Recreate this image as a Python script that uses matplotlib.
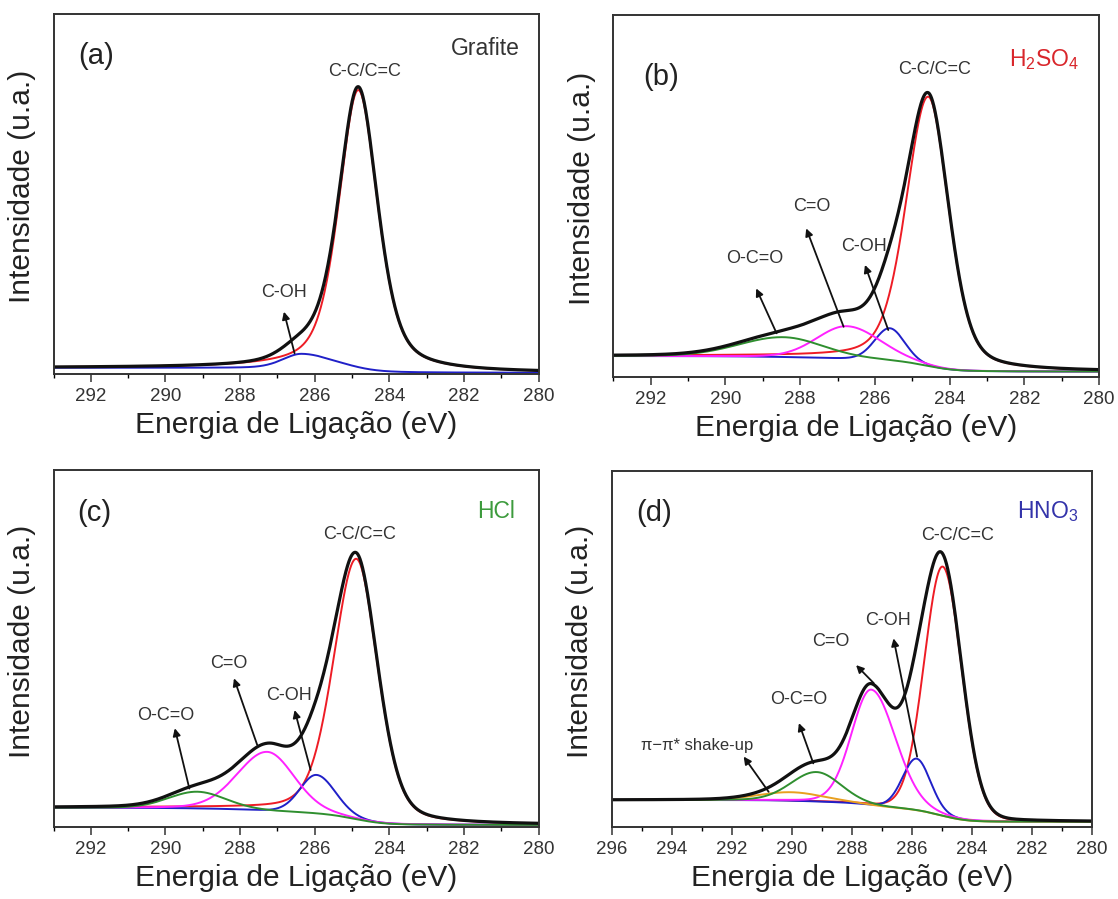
import numpy as np
import matplotlib.pyplot as plt
from matplotlib.ticker import MultipleLocator

plt.rcParams['font.family'] = ['Liberation Sans', 'DejaVu Sans']

# peak fits: centre (eV), height above background,
# width on the high-BE side, width on the low-BE side, lorentz fraction
a_names = ['C-C/C=C', 'C-OH']
a_center = [284.83, 286.35]
a_height = [0.78, 0.040]
a_w_hi = [1.24, 1.2]
a_w_lo = [1.24, 2.0]
a_eta = [0.5, 0.3]
a_bg = [0.016, 0.002]

b_names = ['C-C/C=C', 'C-OH', 'C=O', 'O-C=O']
b_center = [284.57, 285.6, 286.75, 288.45]
b_height = [0.745, 0.09, 0.09, 0.055]
b_w_hi = [1.4, 0.95, 1.9, 2.8]
b_w_lo = [1.3, 0.95, 2.1, 2.5]
b_eta = [0.35, 0.1, 0.1, 0.1]
b_bg = [0.057, 0.014]

c_names = ['C-C/C=C', 'C-OH', 'C=O', 'O-C=O']
c_center = [284.88, 285.95, 287.27, 289.15]
c_height = [0.73, 0.108, 0.165, 0.047]
c_w_hi = [1.45, 1.05, 1.9, 1.8]
c_w_lo = [1.35, 1.2, 1.7, 1.8]
c_eta = [0.3, 0.1, 0.15, 0.1]
c_bg = [0.053, 0.005]

d_names = ['C-C/C=C', 'C-OH', 'C=O', 'O-C=O', 'shake-up']
d_center = [284.97, 285.84, 287.35, 289.17, 290.0]
d_height = [0.70, 0.145, 0.325, 0.083, 0.024]
d_w_hi = [1.45, 1.1, 1.55, 2.0, 2.6]
d_w_lo = [1.5, 1.1, 1.9, 1.9, 2.6]
d_eta = [0.08, 0.1, 0.1, 0.1, 0.1]
d_bg = [0.075, 0.014]

comp_colors = {'C-C/C=C': '#ee1c25', 'C-OH': '#2020c8', 'C=O': '#ff22ff',
               'O-C=O': '#2f8f2f', 'shake-up': '#e8a020'}


def peak(x, c, h, whi, wlo, eta):
    w = np.where(x >= c, whi, wlo)
    t = ((x - c) / w) ** 2
    return h * ((1 - eta) * np.exp(-4 * np.log(2) * t) + eta / (1 + 4 * t))


def shirley(x, total, bhi, blo):
    cum = np.concatenate([[0], np.cumsum(0.5 * (total[1:] + total[:-1]) * np.diff(x))])
    return blo + (bhi - blo) * cum / cum[-1]


def draw(ax, xmin, xmax, names, center, height, whi, wlo, eta, bg):
    x = np.linspace(xmin, xmax, 1500)
    peaks = [peak(x, center[i], height[i], whi[i], wlo[i], eta[i]) for i in range(len(names))]
    total = np.sum(peaks, axis=0)
    back = shirley(x, total, bg[0], bg[1])
    order = ['C-C/C=C', 'C-OH', 'C=O', 'shake-up', 'O-C=O']
    for nm in order:
        if nm in names:
            i = names.index(nm)
            ax.plot(x, back + peaks[i], color=comp_colors[nm], lw=1.4)
    ax.plot(x, back + total, color='#111111', lw=2.3)
    ax.set_xlim(xmax, xmin)
    ax.set_ylim(0, 1)
    ax.set_yticks([])
    ax.xaxis.set_major_locator(MultipleLocator(2))
    ax.xaxis.set_minor_locator(MultipleLocator(1))
    ax.tick_params(axis='x', which='major', direction='out', length=5.5, width=1.1,
                   labelsize=13.5, pad=5, colors='#333333')
    ax.tick_params(axis='x', which='minor', direction='out', length=3, width=1.0)
    for s in ax.spines.values():
        s.set_linewidth(1.4)
        s.set_color('#333333')
    ax.set_xlabel('Energia de Ligação (eV)', fontsize=21.5, labelpad=4, color='#222222')
    ax.set_ylabel('Intensidade (u.a.)', fontsize=21.5, color='#222222')
    ax.yaxis.set_label_coords(-0.036, 0.52)


def label(ax, txt, pos, size=13, color='#333333'):
    ax.text(pos[0], pos[1], txt, transform=ax.transAxes, ha='center', va='center',
            fontsize=size, color=color)


def arrow(ax, tail, head):
    ax.annotate('', xy=head, xytext=tail, xycoords='axes fraction',
                arrowprops=dict(arrowstyle='-|>', color='#111111', lw=1.3,
                                mutation_scale=11, shrinkA=0, shrinkB=0))


fig = plt.figure(figsize=(11.18, 8.99), dpi=100)
ax_a = fig.add_axes([0.0479, 0.5845, 0.4338, 0.3999])
ax_b = fig.add_axes([0.5487, 0.5810, 0.4343, 0.4023])
ax_c = fig.add_axes([0.0479, 0.0804, 0.4338, 0.3968])
ax_d = fig.add_axes([0.5470, 0.0804, 0.4297, 0.3960])

draw(ax_a, 280, 293, a_names, a_center, a_height, a_w_hi, a_w_lo, a_eta, a_bg)
draw(ax_b, 280, 293, b_names, b_center, b_height, b_w_hi, b_w_lo, b_eta, b_bg)
draw(ax_c, 280, 293, c_names, c_center, c_height, c_w_hi, c_w_lo, c_eta, c_bg)
draw(ax_d, 280, 296, d_names, d_center, d_height, d_w_hi, d_w_lo, d_eta, d_bg)

# panel (a)
label(ax_a, '(a)', (0.088, 0.884), size=21, color='#222222')
label(ax_a, 'Grafite', (0.89, 0.904), size=16.5)
label(ax_a, 'C-C/C=C', (0.641, 0.84))
label(ax_a, 'C-OH', (0.475, 0.225))
arrow(ax_a, (0.497, 0.056), (0.475, 0.172))

# panel (b)
label(ax_b, '(b)', (0.099, 0.829), size=21, color='#222222')
label(ax_b, 'H$_\\mathregular{2}$SO$_\\mathregular{4}$', (0.886, 0.876), size=16.5, color='#d9262b')
label(ax_b, 'C-C/C=C', (0.662, 0.848))
label(ax_b, 'O-C=O', (0.29, 0.327))
arrow(ax_b, (0.336, 0.12), (0.294, 0.244))
label(ax_b, 'C=O', (0.408, 0.47))
arrow(ax_b, (0.474, 0.138), (0.397, 0.41))
label(ax_b, 'C-OH', (0.515, 0.359))
arrow(ax_b, (0.566, 0.129), (0.518, 0.309))

# panel (c)
label(ax_c, '(c)', (0.085, 0.879), size=21, color='#222222')
label(ax_c, 'HCl', (0.913, 0.883), size=16.5, color='#3d9b3d')
label(ax_c, 'C-C/C=C', (0.63, 0.818))
label(ax_c, 'O-C=O', (0.232, 0.313))
arrow(ax_c, (0.28, 0.107), (0.25, 0.276))
label(ax_c, 'C=O', (0.361, 0.458))
arrow(ax_c, (0.42, 0.229), (0.372, 0.416))
label(ax_c, 'C-OH', (0.486, 0.369))
arrow(ax_c, (0.53, 0.159), (0.497, 0.327))

# panel (d)
label(ax_d, '(d)', (0.089, 0.88), size=21, color='#222222')
label(ax_d, 'HNO$_\\mathregular{3}$', (0.907, 0.885), size=16.5, color='#3333aa')
label(ax_d, 'C-C/C=C', (0.721, 0.819))
label(ax_d, 'C-OH', (0.576, 0.58))
arrow(ax_d, (0.636, 0.197), (0.587, 0.529))
label(ax_d, 'C=O', (0.457, 0.52))
arrow(ax_d, (0.546, 0.403), (0.509, 0.454))
label(ax_d, 'O-C=O', (0.39, 0.356))
arrow(ax_d, (0.42, 0.178), (0.39, 0.291))
label(ax_d, 'π−π* shake-up', (0.178, 0.229), size=12)
arrow(ax_d, (0.327, 0.098), (0.275, 0.197))

fig.savefig('out.png', dpi=100)
